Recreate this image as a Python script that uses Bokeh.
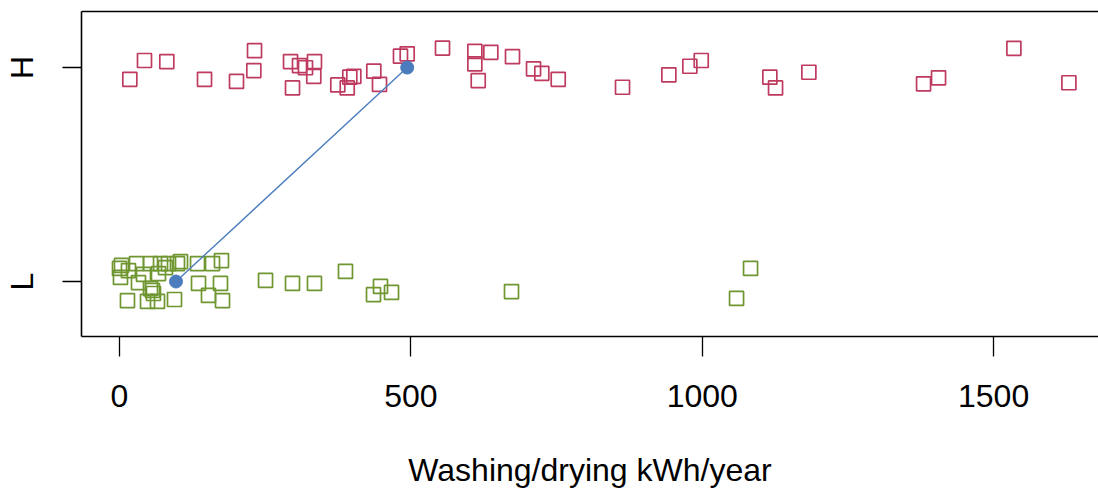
import numpy as np
from bokeh.plotting import figure
from bokeh.models import Range1d, LinearAxis, FixedTicker, ColumnDataSource
from bokeh.embed import file_html
from bokeh.resources import INLINE

# ---- data ----
categories = ["L", "H"]
cat_pos = {"L": 1, "H": 2}

h_kwh = [17.7, 42.9, 81.2, 145.9, 200.8, 231.7, 230.5, 293.5, 296.9, 308.9,
         319.2, 334.6, 333.4, 374.6, 390.8, 395.2, 402.1, 436.4, 446.2, 482.2,
         493.7, 554.3, 609.8, 609.8, 637.2, 615.6, 674.4, 710.5, 724.7, 752.9,
         863.2, 942.7, 978.7, 998.3, 1116.0, 1125.8, 1183.0, 1379.8, 1405.5,
         1534.8, 1629.2]
h_jitter = [-0.055, 0.033, 0.028, -0.055, -0.065, 0.079, -0.014, 0.028, -0.095, 0.009,
            -0.001, 0.028, -0.041, -0.081, -0.095, -0.045, -0.041, -0.017, -0.079, 0.053,
            0.064, 0.091, 0.076, 0.017, 0.071, -0.061, 0.051, -0.006, -0.027, -0.055,
            -0.092, -0.034, 0.006, 0.033, -0.045, -0.095, -0.022, -0.076, -0.048,
            0.090, -0.071]

l_kwh = [0.0, 3.4, 1.7, 15.4, 29.2, 32.6, 41.2, 53.2, 66.9, 70.4,
         84.1, 13.7, 53.2, 58.3, 48.1, 65.2, 94.4, 56.6, 99.5, 104.7,
         78.9, 133.9, 159.6, 175.0, 135.6, 173.3, 152.7, 176.8, 250.6, 296.9,
         334.6, 387.8, 435.9, 447.9, 466.8, 672.7, 1082.9, 1058.9]
l_jitter = [0.061, 0.075, 0.019, 0.051, 0.084, -0.005, 0.033, 0.084, 0.037, 0.084,
            0.084, -0.089, -0.033, -0.056, -0.093, -0.093, -0.084, -0.042, 0.084, 0.093,
            0.065, 0.084, 0.084, 0.098, -0.009, -0.009, -0.065, -0.089, 0.005, -0.009,
            -0.009, 0.047, -0.061, -0.023, -0.051, -0.047, 0.061, -0.079]

x_ticks = [0, 500, 1000, 1500]
x_label = "Washing/drying kWh/year"

H_COLOR = "#BE3A5F"
L_COLOR = "#6F9630"
MED_COLOR = "#4B7DBE"
FONT = "Liberation Sans"

p = figure(width=1098, height=490, output_backend="svg", toolbar_location=None,
           x_range=Range1d(-65.2, 1680), y_range=Range1d(0.743, 2.262),
           x_axis_type=None, y_axis_type=None,
           min_border_left=81, min_border_right=0, min_border_top=11, min_border_bottom=154)
p.outline_line_color = None
p.grid.visible = False
p.background_fill_color = "white"
p.border_fill_color = "white"

# bottom axis
xa = LinearAxis(ticker=FixedTicker(ticks=x_ticks))
xa.axis_label = x_label
xa.axis_line_color = "black"
xa.axis_line_width = 1.6
xa.major_tick_in = 0
xa.major_tick_out = 20
xa.major_tick_line_width = 1.3
xa.minor_tick_line_color = None
xa.major_label_text_font = FONT
xa.major_label_text_font_size = "32px"
xa.major_label_text_color = "black"
xa.major_label_standoff = 28
xa.axis_label_text_font = FONT
xa.axis_label_text_font_size = "32px"
xa.axis_label_text_font_style = "normal"
xa.axis_label_text_color = "black"
xa.axis_label_standoff = 42
p.add_layout(xa, "below")

# left axis
ya = LinearAxis(ticker=FixedTicker(ticks=[cat_pos[c] for c in categories]))
ya.major_label_overrides = {cat_pos[c]: c for c in categories}
ya.major_label_orientation = "vertical"
ya.axis_line_color = "black"
ya.axis_line_width = 1.6
ya.major_tick_in = 0
ya.major_tick_out = 19
ya.major_tick_line_width = 1.3
ya.minor_tick_line_color = None
ya.major_label_text_font = FONT
ya.major_label_text_font_size = "32px"
ya.major_label_text_color = "black"
ya.major_label_standoff = 22
p.add_layout(ya, "left")

# top box edge
ta = LinearAxis(ticker=FixedTicker(ticks=[]))
ta.axis_line_color = "black"
ta.axis_line_width = 1.6
ta.major_tick_in = 0
ta.major_tick_out = 0
ta.minor_tick_line_color = None
ta.major_label_text_font_size = "0px"
ta.major_label_standoff = 0
p.add_layout(ta, "above")

h_src = ColumnDataSource(dict(x=h_kwh, y=[cat_pos["H"] + j for j in h_jitter]))
l_src = ColumnDataSource(dict(x=l_kwh, y=[cat_pos["L"] + j for j in l_jitter]))
p.scatter("x", "y", source=h_src, marker="square", size=14, fill_color=None,
          line_color=H_COLOR, line_width=1.7)
p.scatter("x", "y", source=l_src, marker="square", size=14, fill_color=None,
          line_color=L_COLOR, line_width=1.7)

med_x = [float(np.median(l_kwh)), float(np.median(h_kwh))]
med_y = [cat_pos["L"], cat_pos["H"]]
p.line(med_x, med_y, line_color=MED_COLOR, line_width=1.4)
p.scatter(med_x, med_y, marker="circle", size=13, fill_color=MED_COLOR, line_color=MED_COLOR)

open("out.html", "w").write(file_html(p, INLINE))
